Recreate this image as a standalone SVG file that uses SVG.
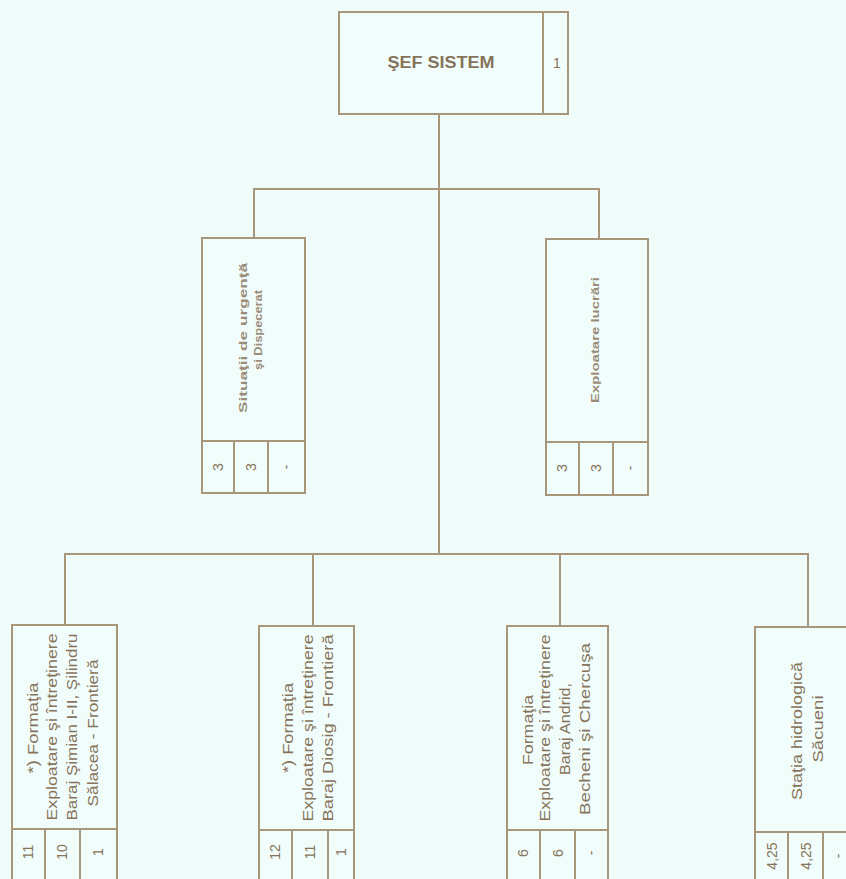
<svg xmlns="http://www.w3.org/2000/svg" width="846" height="879" viewBox="0 0 846 879">
<style>
.bx{fill:#f1fdfb;stroke:#a8967a;stroke-width:2}
.ln{fill:none;stroke:#a8967a;stroke-width:2}
.t{font-family:"Liberation Sans",Arial,sans-serif;fill:#86735a;text-anchor:middle;dominant-baseline:central}
.b{font-size:14px}
.m{font-size:10px;font-weight:bold;fill:#9a8c78}
.n{font-size:14px}
</style>
<rect width="846" height="879" fill="#effcfa"/>
<g id="connectors">
<path class="ln" d="M439 114V554"/>
<path class="ln" d="M254 238V189H599V239"/>
<path class="ln" d="M65 625V554H808V627"/>
<path class="ln" d="M313 554V625"/>
<path class="ln" d="M560 554V626"/>
</g>
<g id="sef">
<rect class="bx" x="339" y="12" width="229" height="102"/>
<path class="ln" d="M543 12V114"/>
<text class="t" x="441" y="62" font-size="16" font-weight="bold" textLength="107" lengthAdjust="spacingAndGlyphs">ŞEF SISTEM</text>
<text class="t n" x="557" y="63">1</text>
</g>
<g id="situatii">
<rect class="bx" x="202" y="238" width="103" height="255"/>
<path class="ln" d="M202 441H305M234 441V493M268 441V493"/>
<text class="t m" transform="translate(243,338) rotate(-90)" textLength="150" lengthAdjust="spacingAndGlyphs">Situaţii de urgenţă</text>
<text class="t m" transform="translate(258,330) rotate(-90)" textLength="80" lengthAdjust="spacingAndGlyphs">şi Dispecerat</text>
<text class="t n" transform="translate(218,467) rotate(-90)">3</text>
<text class="t n" transform="translate(251,467) rotate(-90)">3</text>
<text class="t n" transform="translate(286,467) rotate(-90)">-</text>
</g>
<g id="exploatare">
<rect class="bx" x="546" y="239" width="102" height="256"/>
<path class="ln" d="M546 442H648M579 442V495M613 442V495"/>
<text class="t m" transform="translate(595,340) rotate(-90)" textLength="126" lengthAdjust="spacingAndGlyphs">Exploatare lucrări</text>
<text class="t n" transform="translate(562,468) rotate(-90)">3</text>
<text class="t n" transform="translate(596,468) rotate(-90)">3</text>
<text class="t n" transform="translate(630,468) rotate(-90)">-</text>
</g>
<g id="f1">
<rect class="bx" x="12" y="625" width="105" height="262"/>
<path class="ln" d="M12 829H117M45 829V887M80 829V887"/>
<text class="t b" transform="translate(33,728) rotate(-90)" textLength="91" lengthAdjust="spacingAndGlyphs">*) Formaţia</text>
<text class="t b" transform="translate(52,727) rotate(-90)" textLength="187" lengthAdjust="spacingAndGlyphs">Exploatare şi întreţinere</text>
<text class="t b" transform="translate(72,727) rotate(-90)" textLength="187" lengthAdjust="spacingAndGlyphs">Baraj Şimian I-II, Şilindru</text>
<text class="t b" transform="translate(93,733) rotate(-90)" textLength="147" lengthAdjust="spacingAndGlyphs">Sălacea - Frontieră</text>
<text class="t n" transform="translate(28,852) rotate(-90)">11</text>
<text class="t n" transform="translate(62,852) rotate(-90)">10</text>
<text class="t n" transform="translate(98,852) rotate(-90)">1</text>
</g>
<g id="f2">
<rect class="bx" x="259" y="626" width="95" height="262"/>
<path class="ln" d="M259 830H354M292 830V888M328 830V888"/>
<text class="t b" transform="translate(288,728) rotate(-90)" textLength="90" lengthAdjust="spacingAndGlyphs">*) Formaţia</text>
<text class="t b" transform="translate(308,728) rotate(-90)" textLength="187" lengthAdjust="spacingAndGlyphs">Exploatare şi întreţinere</text>
<text class="t b" transform="translate(328,728) rotate(-90)" textLength="187" lengthAdjust="spacingAndGlyphs">Baraj Diosig - Frontieră</text>
<text class="t n" transform="translate(275,852) rotate(-90)">12</text>
<text class="t n" transform="translate(310,852) rotate(-90)">11</text>
<text class="t n" transform="translate(341,852) rotate(-90)">1</text>
</g>
<g id="f3">
<rect class="bx" x="507" y="626" width="101" height="262"/>
<path class="ln" d="M507 830H608M540 830V888M575 830V888"/>
<text class="t b" transform="translate(528,730) rotate(-90)" textLength="70" lengthAdjust="spacingAndGlyphs">Formaţia</text>
<text class="t b" transform="translate(545,728) rotate(-90)" textLength="187" lengthAdjust="spacingAndGlyphs">Exploatare şi întreţinere</text>
<text class="t b" transform="translate(565,729) rotate(-90)" textLength="92" lengthAdjust="spacingAndGlyphs">Baraj Andrid,</text>
<text class="t b" transform="translate(585,729) rotate(-90)" textLength="172" lengthAdjust="spacingAndGlyphs">Becheni şi Chercuşa</text>
<text class="t n" transform="translate(523,853) rotate(-90)">6</text>
<text class="t n" transform="translate(558,853) rotate(-90)">6</text>
<text class="t n" transform="translate(591,853) rotate(-90)">-</text>
</g>
<g id="f4">
<rect class="bx" x="755" y="627" width="105" height="262"/>
<path class="ln" d="M755 832H860M788 832V889M823 832V889"/>
<text class="t b" transform="translate(797,731) rotate(-90)" textLength="138" lengthAdjust="spacingAndGlyphs">Staţia hidrologică</text>
<text class="t b" transform="translate(818,729) rotate(-90)" textLength="67" lengthAdjust="spacingAndGlyphs">Săcueni</text>
<text class="t n" transform="translate(772,856) rotate(-90)">4,25</text>
<text class="t n" transform="translate(806,856) rotate(-90)">4,25</text>
<text class="t n" transform="translate(838,856) rotate(-90)">-</text>
</g>
</svg>
